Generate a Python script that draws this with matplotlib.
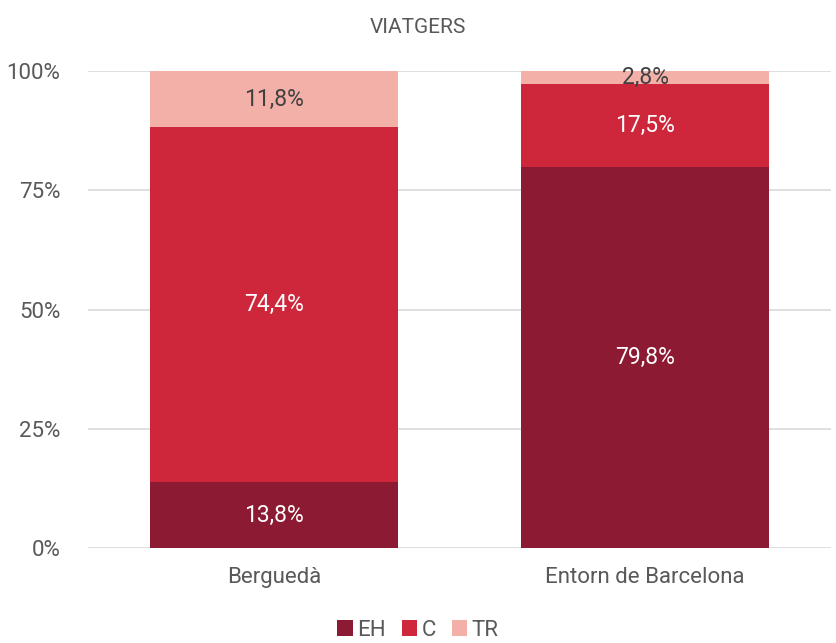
import numpy as np
import matplotlib
matplotlib.use("Agg")
import matplotlib.pyplot as plt

plt.rcParams['font.family'] = ['Roboto', 'DejaVu Sans']

# Data
categories = ['Berguedà', 'Entorn de Barcelona']
series = ['EH', 'C', 'TR']
eh = [13.8, 79.8]
c = [74.4, 17.5]
tr = [11.8, 2.8]
colors = ['#8B1A32', '#CE273C', '#F2B0A8']
label_colors = ['white', 'white', '#404040']

txt = '#595959'

fig = plt.figure(figsize=(8.36, 6.43), dpi=100)
ax = fig.add_axes([0.1053, 0.1477, 0.8887, 0.7419])

x = np.arange(len(categories))
bottom = np.zeros(len(categories))
for name, vals, col, lc in zip(series, [eh, c, tr], colors, label_colors):
    vals = np.array(vals)
    ax.bar(x, vals, 0.667, bottom=bottom, color=col, label=name, zorder=2)
    for xi, b, v in zip(x, bottom, vals):
        ax.text(xi, b + v / 2, ('%.1f%%' % v).replace('.', ','),
                ha='center', va='center', color=lc, fontsize=16.5, zorder=3)
    bottom += vals

ax.set_xlim(-0.5, 1.5)
ax.set_ylim(0, 100)
ax.set_yticks([0, 25, 50, 75, 100])
ax.set_yticklabels(['0%', '25%', '50%', '75%', '100%'])
ax.set_xticks(x)
ax.set_xticklabels(categories)
ax.yaxis.grid(True, color='#D9D9D9', linewidth=1.2, zorder=0)
ax.set_axisbelow(True)
for s in ax.spines.values():
    s.set_visible(False)
ax.tick_params(axis='both', length=0, colors=txt, labelsize=16)
ax.tick_params(axis='y', pad=20)
ax.tick_params(axis='x', pad=14)

fig.text(0.5, 0.958, 'VIATGERS', ha='center', va='center', color=txt, fontsize=15)

fig.legend(loc='lower center', bbox_to_anchor=(0.5, -0.028), ncol=3, frameon=False,
           fontsize=16, labelcolor=txt, handlelength=0.7, handleheight=0.7,
           handletextpad=0.2, columnspacing=0.7)

fig.savefig('out.png', dpi=100)
